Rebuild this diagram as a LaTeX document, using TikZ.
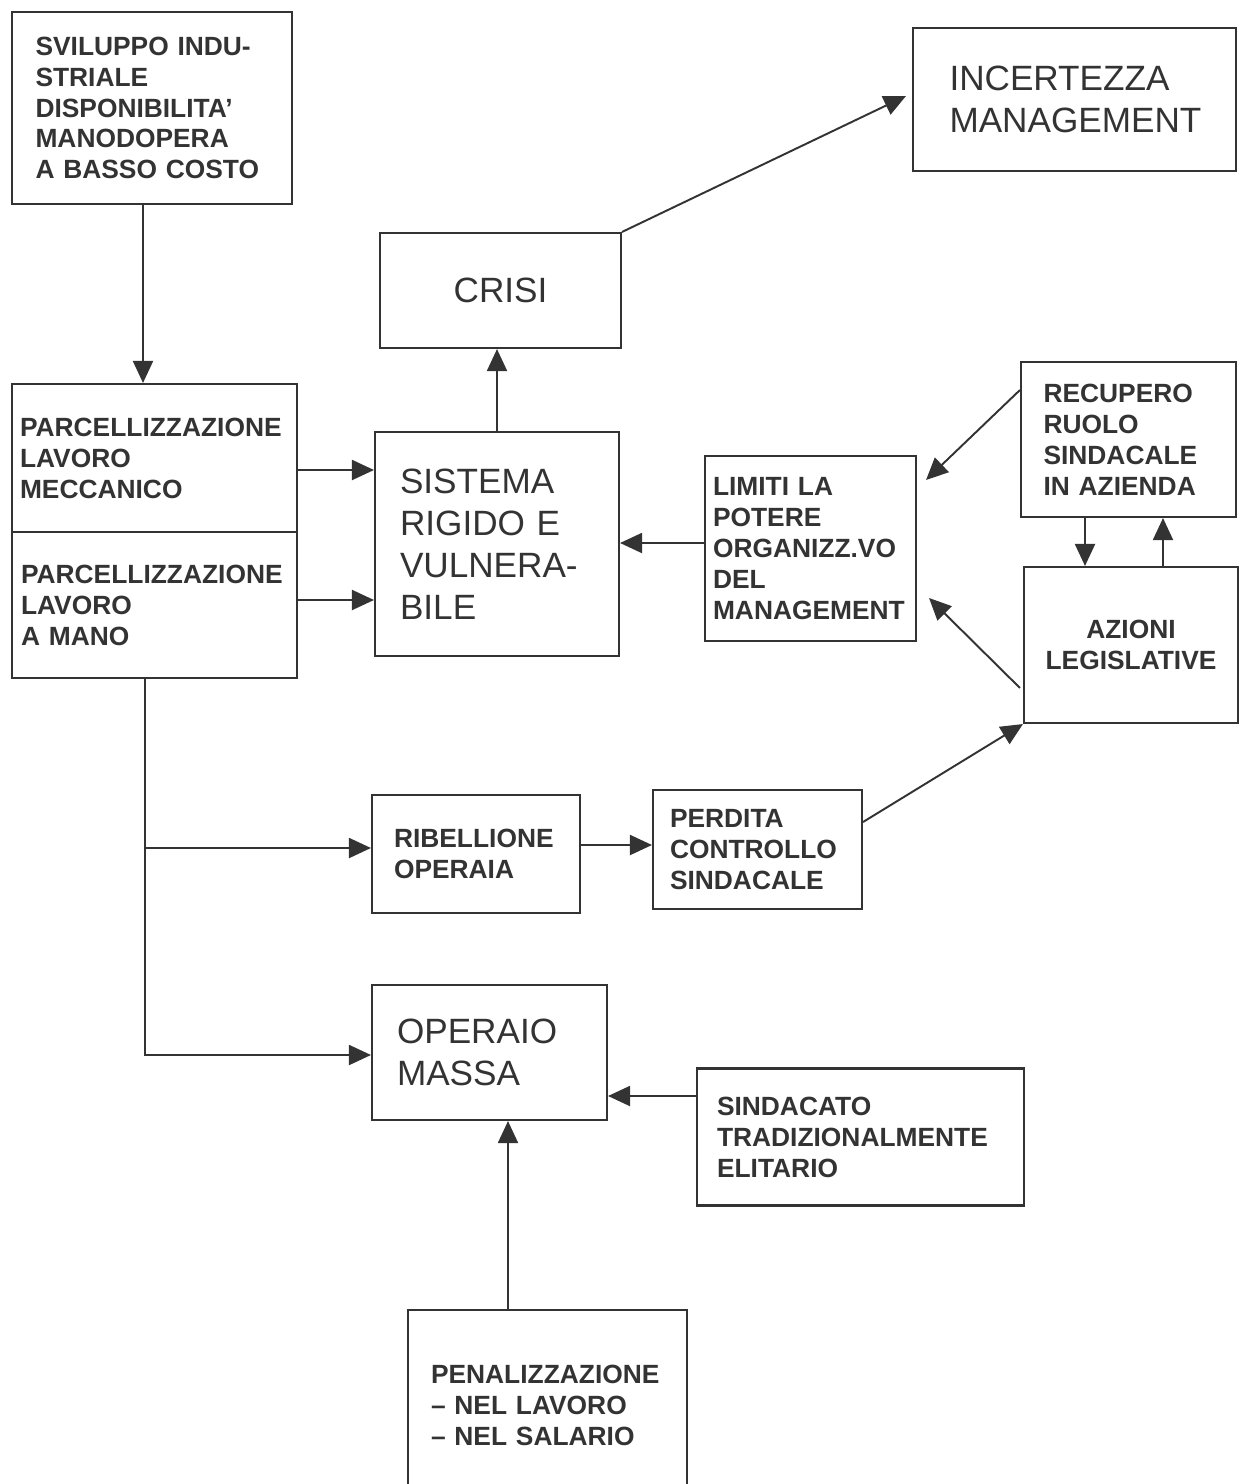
\documentclass[tikz,border=0pt]{standalone}
\usepackage{fontspec}
\setmainfont{Liberation Sans}
\usetikzlibrary{arrows.meta,calc}
\definecolor{ink}{HTML}{333333}
\begin{document}
\begin{tikzpicture}[x=0.02cm,y=-0.02cm,
  box/.style={draw=ink, line width=1.2pt, text=ink, inner sep=0pt, align=left},
  bold/.style={font=\fontsize{15}{17.6}\selectfont\bfseries},
  thin/.style={font=\fontsize{20}{24}\selectfont},
  arr/.style={draw=ink, line width=1.1pt, -{Triangle[length=0.44cm,width=0.4cm]}},
  link/.style={draw=ink, line width=1.1pt}]
\clip (0,0) rectangle (1254,1484);
\fill[white] (0,0) rectangle (1254,1484);

% boxes
\node[box,bold,minimum width=5.6cm,minimum height=3.84cm,text width=4.66cm] (svil) at (152,108)
  {SVILUPPO INDU-\\STRIALE\\DISPONIBILITA'\\MANODOPERA\\A BASSO COSTO};
\node[box,bold,minimum width=5.7cm,minimum height=2.96cm,text width=5.38cm] (parA) at (154.5,458)
  {PARCELLIZZAZIONE\\LAVORO\\MECCANICO};
\node[box,bold,minimum width=5.7cm,minimum height=2.92cm,text width=5.34cm] (parB) at (154.5,605)
  {PARCELLIZZAZIONE\\LAVORO\\A MANO};
\node[box,thin,minimum width=4.88cm,minimum height=4.48cm,text width=3.88cm] (sist) at (497,544)
  {SISTEMA\\RIGIDO E\\VULNERA-\\BILE};
\node[box,thin,minimum width=4.82cm,minimum height=2.3cm,align=center] (crisi) at (500.5,290.5)
  {CRISI};
\node[box,thin,minimum width=6.46cm,minimum height=2.86cm,text width=5.0cm] (incert) at (1074.5,99.5)
  {INCERTEZZA\\MANAGEMENT};
\node[box,bold,minimum width=4.22cm,minimum height=3.7cm,text width=3.9cm] (lim) at (810.5,548.5)
  {LIMITI LA\\POTERE\\ORGANIZZ.VO\\DEL\\MANAGEMENT};
\node[box,bold,minimum width=4.3cm,minimum height=3.1cm,text width=3.4cm] (recup) at (1128.5,439.5)
  {RECUPERO\\RUOLO\\SINDACALE\\IN AZIENDA};
\node[box,bold,minimum width=4.28cm,minimum height=3.12cm,align=center] (azi) at (1131,645)
  {AZIONI\\LEGISLATIVE};
\node[box,bold,minimum width=4.16cm,minimum height=2.36cm,text width=3.28cm] (ribel) at (476,854)
  {RIBELLIONE\\OPERAIA};
\node[box,bold,minimum width=4.18cm,minimum height=2.38cm,text width=3.5cm] (perd) at (757.5,849.5)
  {PERDITA\\CONTROLLO\\SINDACALE};
\node[box,thin,minimum width=4.7cm,minimum height=2.7cm,text width=3.7cm] (oper) at (489.5,1052.5)
  {OPERAIO\\MASSA};
\node[box,bold,minimum width=6.54cm,minimum height=2.74cm,text width=5.74cm] (sind) at (860.5,1137)
  {SINDACATO\\TRADIZIONALMENTE\\ELITARIO};
\node[box,bold,minimum width=5.58cm,minimum height=3.8cm,text width=4.66cm] (pen) at (547.5,1405)
  {PENALIZZAZIONE\\-- NEL LAVORO\\-- NEL SALARIO};

% connectors
\draw[arr] (svil.south -| 143,0) -- (parA.north -| 143,0);
\draw[arr] (parA.east |- 0,470) -- (sist.west |- 0,470);
\draw[arr] (parB.east |- 0,600) -- (sist.west |- 0,600);
\draw[arr] (sist.north -| 497,0) -- (crisi.south -| 497,0);
\draw[arr] (crisi.north east) -- ($(incert.west |- 0,96)+(-6,0)$);
\draw[arr] (lim.west |- 0,543) -- (sist.east |- 0,543);
\draw[arr] (recup.west |- 0,390) -- ($(lim.east |- 0,480)+(9,0)$);
\draw[arr] ($(azi.west |- 0,688)+(-3,0)$) -- ($(lim.east |- 0,598)+(12,0)$);
\draw[arr] (recup.south -| 1085,0) -- (azi.north -| 1085,0);
\draw[arr] (azi.north -| 1163,0) -- (recup.south -| 1163,0);
\draw[arr] (perd.east |- 0,822) -- (azi.south west);
\coordinate (drop) at (parB.south -| 145,0);
\draw[arr] (drop) |- (oper.west |- 0,1055);
\draw[arr] (drop) |- (ribel.west |- 0,848);
\draw[arr] (ribel.east |- 0,845) -- (perd.west |- 0,845);
\draw[arr] (sind.west |- 0,1096) -- (oper.east |- 0,1096);
\draw[arr] (pen.north -| 508,0) -- (oper.south -| 508,0);
\end{tikzpicture}
\end{document}
